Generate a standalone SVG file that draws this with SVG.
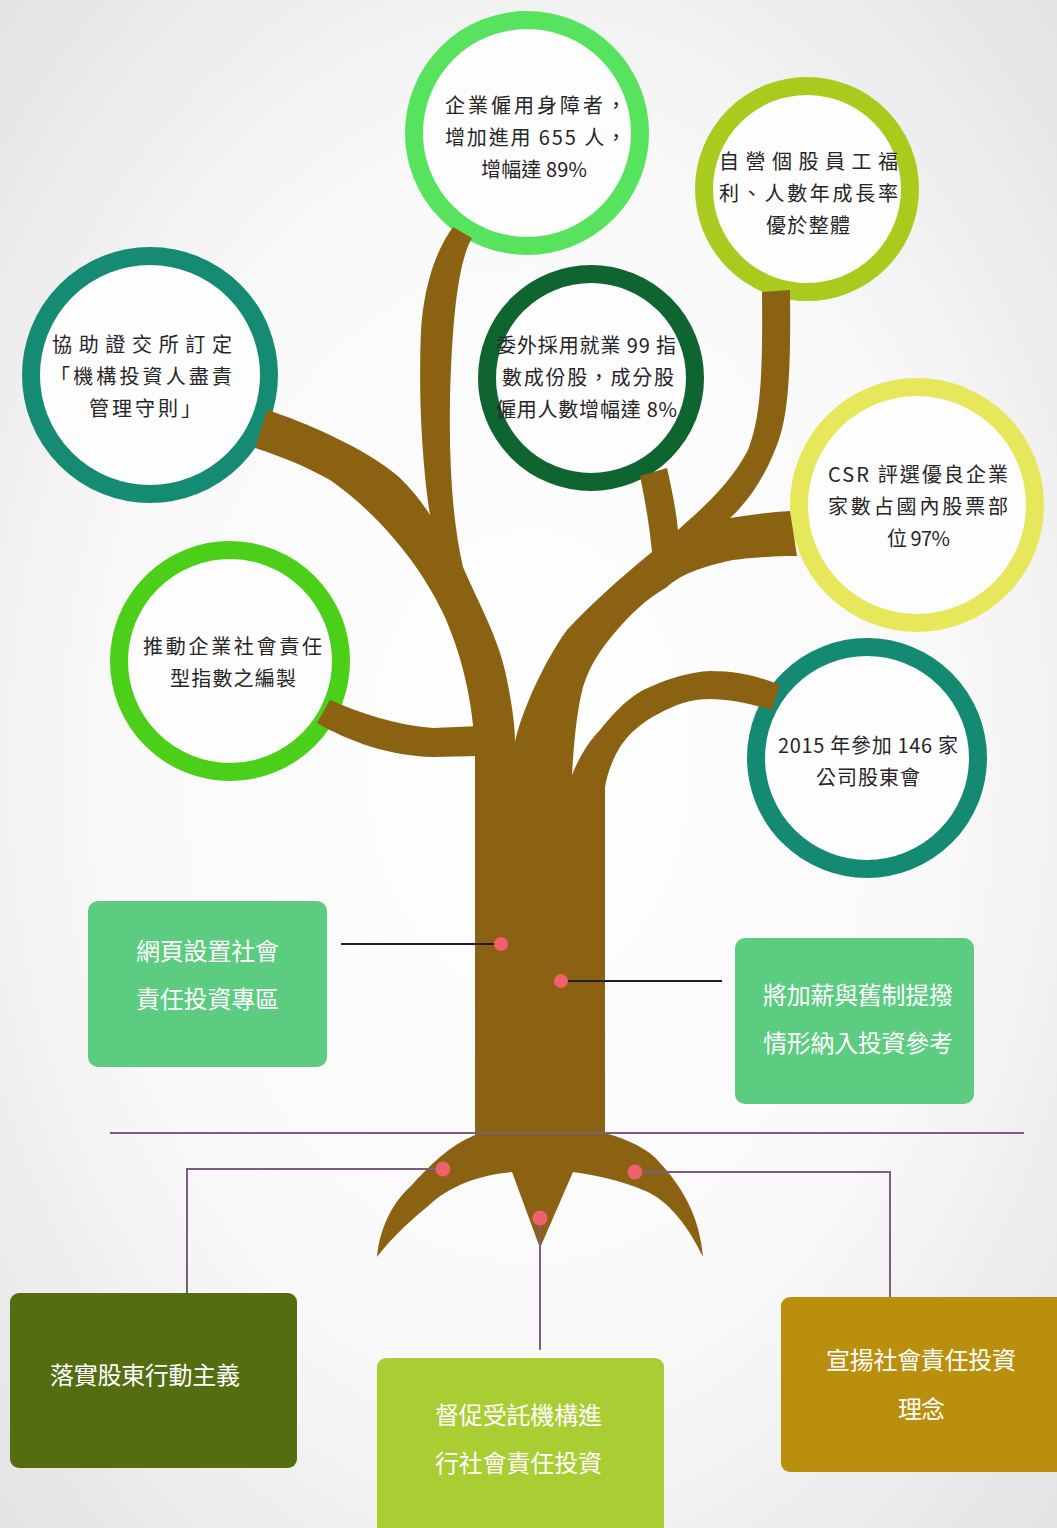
<svg xmlns="http://www.w3.org/2000/svg" width="1057" height="1528" viewBox="0 0 1057 1528">
  <defs>
    <radialGradient id="bg" cx="50%" cy="50%" r="72%">
      <stop offset="0" stop-color="#ffffff"/>
      <stop offset="0.55" stop-color="#f9f9f9"/>
      <stop offset="1" stop-color="#e2e2e2"/>
    </radialGradient>
    <style>
      .ring { fill: #fdfdfd; stroke-width: 18; }
      .ctext { font-family: "Noto Sans CJK TC", "Noto Sans", sans-serif; font-size: 20px; fill: #262626; }
      .btext { font-family: "Noto Sans CJK TC", "Noto Sans", sans-serif; font-size: 24px; fill: #ffffff; }
      .wood { fill: #8b6212; }
      .root-link { fill: none; stroke: #7a5e7e; stroke-width: 2; }
      .trunk-link { fill: none; stroke: #1e1e2c; stroke-width: 2; }
      .dot { fill: #f0606f; }
    </style>
  </defs>

  <rect x="0" y="0" width="1057" height="1528" fill="url(#bg)"/>

  <!-- circular leaves -->
  <g id="leaf-disabled-hiring">
    <circle class="ring" cx="527" cy="133" r="113" stroke="#58e35e"/>
    <text class="ctext" x="445" y="113" textLength="181" lengthAdjust="spacing">企業僱用身障者，</text>
    <text class="ctext" x="445" y="145" textLength="181" lengthAdjust="spacing">增加進用 655 人，</text>
    <text class="ctext" x="481" y="177" textLength="106" lengthAdjust="spacing">增幅達 89%</text>
  </g>

  <g id="leaf-welfare">
    <circle class="ring" cx="807" cy="189" r="103" stroke="#a9cb1d"/>
    <text class="ctext" x="719" y="169" textLength="179" lengthAdjust="spacing">自營個股員工福</text>
    <text class="ctext" x="719" y="201" textLength="179" lengthAdjust="spacing">利、人數年成長率</text>
    <text class="ctext" x="766" y="233" textLength="84" lengthAdjust="spacing">優於整體</text>
  </g>

  <g id="leaf-stewardship">
    <circle class="ring" cx="150" cy="375" r="119" stroke="#168b74"/>
    <text class="ctext" x="52" y="352" textLength="180" lengthAdjust="spacing">協助證交所訂定</text>
    <text class="ctext" x="50" y="384" textLength="182" lengthAdjust="spacing">「機構投資人盡責</text>
    <text class="ctext" x="89" y="416" textLength="112" lengthAdjust="spacing">管理守則」</text>
  </g>

  <g id="leaf-employment-index">
    <circle class="ring" cx="591" cy="378" r="104" stroke="#0f652f" stroke-width="17"/>
    <text class="ctext" x="496" y="353" textLength="180" lengthAdjust="spacing">委外採用就業 99 指</text>
    <text class="ctext" x="502" y="385" textLength="172" lengthAdjust="spacing">數成份股，成分股</text>
    <text class="ctext" x="496" y="417" textLength="181" lengthAdjust="spacing">僱用人數增幅達 8%</text>
  </g>

  <g id="leaf-csr-rating">
    <circle class="ring" cx="917" cy="505" r="118" stroke="#e6e75a" stroke-width="20"/>
    <text class="ctext" x="828" y="482" textLength="180" lengthAdjust="spacing">CSR 評選優良企業</text>
    <text class="ctext" x="828" y="514" textLength="180" lengthAdjust="spacing">家數占國內股票部</text>
    <text class="ctext" x="887" y="546" textLength="63" lengthAdjust="spacing">位 97%</text>
  </g>

  <g id="leaf-csr-index">
    <circle class="ring" cx="230" cy="661" r="111" stroke="#4ccf19"/>
    <text class="ctext" x="143" y="654" textLength="179" lengthAdjust="spacing">推動企業社會責任</text>
    <text class="ctext" x="170" y="686" textLength="126" lengthAdjust="spacing">型指數之編製</text>
  </g>

  <g id="leaf-shareholder-meetings">
    <circle class="ring" cx="867" cy="758" r="111" stroke="#158a73"/>
    <text class="ctext" x="778" y="753" textLength="180" lengthAdjust="spacing">2015 年參加 146 家</text>
    <text class="ctext" x="816" y="785" textLength="104" lengthAdjust="spacing">公司股東會</text>
  </g>

  <!-- tree: trunk, limbs and roots -->
  <g id="tree">
    <path class="wood" d="M 475,1135 L 475,757
      C 474,700 460,650 443,613
      C 420,565 380,515 330,480
      C 305,466 280,456 255,448
      L 267,410
      C 300,420 370,450 400,478
      C 412,490 422,502 430,515
      C 423,470 418,400 421,330
      C 424,285 436,250 453,227
      L 472,238
      C 458,262 452,320 450,400
      C 449,460 452,520 463,567
      C 477,600 500,640 507,680
      C 512,705 515,725 515,742
      C 522,710 545,660 567,630
      C 590,605 620,578 652,552
      C 650,530 646,505 640,476
      L 667,468
      C 672,490 676,510 678,530
      C 700,510 730,485 748,450
      C 760,420 763,380 762,292
      L 790,290
      C 791,380 788,420 775,450
      C 765,475 750,500 730,518
      C 750,515 770,512 790,511
      L 797,556
      C 770,556 750,558 733,560
      C 700,567 680,575 667,587
      C 645,600 630,615 617,630
      C 600,650 590,665 583,687
      C 577,710 574,740 572,775
      C 580,755 590,740 600,730
      C 620,705 635,693 650,687
      C 670,678 690,672 710,671
      C 740,671 760,677 780,685
      L 772,710
      C 750,704 730,699 710,699
      C 690,699 675,705 660,713
      C 640,723 628,735 620,747
      C 612,760 607,775 605,787
      L 605,1133
      C 630,1140 650,1150 660,1163
      C 685,1190 700,1220 703,1257
      C 690,1230 670,1200 643,1190
      C 620,1180 595,1175 573,1172
      L 540,1248 L 512,1172
      C 480,1175 450,1185 427,1207
      C 405,1225 390,1240 377,1257
      C 380,1225 395,1200 410,1187
      C 430,1165 450,1145 475,1135 Z"/>
    <path class="wood" d="M 330,700 C 360,713 395,725 433,728 L 480,726 L 480,756 L 433,757 C 390,756 350,742 317,723 Z"/>
  </g>

  <!-- connectors -->
  <g id="connectors">
    <line x1="110" y1="1133" x2="1024" y2="1133" class="root-link"/>
    <polyline class="root-link" points="443,1169 187,1169 187,1293"/>
    <polyline class="root-link" points="540,1218 540,1350"/>
    <polyline class="root-link" points="635,1172 890,1172 890,1297"/>
    <line class="trunk-link" x1="341" y1="944" x2="501" y2="944"/>
    <line class="trunk-link" x1="561" y1="981" x2="722" y2="981"/>
    <circle class="dot" cx="501" cy="944" r="7"/>
    <circle class="dot" cx="561" cy="981" r="7"/>
    <circle class="dot" cx="443" cy="1169" r="7.5"/>
    <circle class="dot" cx="540" cy="1218" r="7.5"/>
    <circle class="dot" cx="635" cy="1172" r="7.5"/>
  </g>

  <!-- trunk labels -->
  <g id="box-web-zone">
    <rect x="88" y="901" width="239" height="166" rx="10" fill="#5bcc80"/>
    <text class="btext" x="136" y="960" textLength="143" lengthAdjust="spacing">網頁設置社會</text>
    <text class="btext" x="136" y="1008" textLength="143" lengthAdjust="spacing">責任投資專區</text>
  </g>

  <g id="box-pay-raise">
    <rect x="735" y="938" width="239" height="166" rx="10" fill="#5bcc80"/>
    <text class="btext" x="763" y="1004" textLength="190" lengthAdjust="spacing">將加薪與舊制提撥</text>
    <text class="btext" x="763" y="1052" textLength="190" lengthAdjust="spacing">情形納入投資參考</text>
  </g>

  <!-- root labels -->
  <g id="box-activism">
    <rect x="10" y="1293" width="287" height="175" rx="9" fill="#536d10"/>
    <text class="btext" x="50" y="1384" textLength="190" lengthAdjust="spacing">落實股東行動主義</text>
  </g>

  <g id="box-fiduciary">
    <rect x="377" y="1358" width="287" height="190" rx="9" fill="#a9cd33"/>
    <text class="btext" x="435" y="1424" textLength="167" lengthAdjust="spacing">督促受託機構進</text>
    <text class="btext" x="435" y="1472" textLength="167" lengthAdjust="spacing">行社會責任投資</text>
  </g>

  <g id="box-promotion">
    <rect x="781" y="1297" width="296" height="175" rx="9" fill="#bb8f0e"/>
    <text class="btext" x="826" y="1369" textLength="190" lengthAdjust="spacing">宣揚社會責任投資</text>
    <text class="btext" x="898" y="1418" textLength="47" lengthAdjust="spacing">理念</text>
  </g>
</svg>
